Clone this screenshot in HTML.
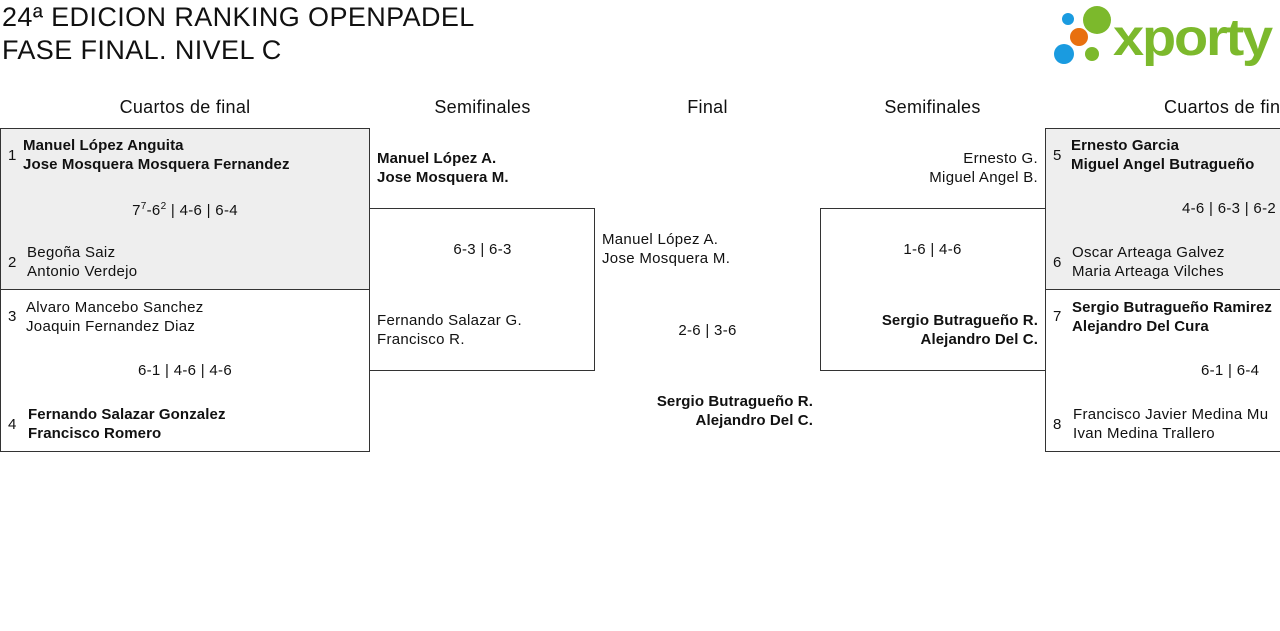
<!DOCTYPE html>
<html><head><meta charset="utf-8"><style>
body{margin:0;width:1280px;height:631px;overflow:hidden;background:#fff;font-family:"Liberation Sans",sans-serif;color:#111;position:relative}
.a{position:absolute;white-space:nowrap;font-size:15px;line-height:19px;letter-spacing:0.3px}
.b{font-weight:bold;letter-spacing:0.1px}
.h{font-size:18px;text-align:center;line-height:22px}
.box{position:absolute;border:1px solid #333;box-sizing:border-box}
.t{font-size:27px;line-height:34px;position:absolute;left:2px;white-space:nowrap;letter-spacing:0.4px}
sup{font-size:10px;line-height:0;vertical-align:6px}
</style></head><body>
<div class="t" style="top:0">24ª EDICION RANKING OPENPADEL</div>
<div class="t" style="top:33px">FASE FINAL. NIVEL C</div>
<svg style="position:absolute;left:1050px;top:3px" width="230" height="64">
<circle cx="18" cy="16" r="6" fill="#1a9be0"/><circle cx="47" cy="17" r="14" fill="#7cb92c"/>
<circle cx="29" cy="34" r="9" fill="#e8700f"/><circle cx="14" cy="51" r="10" fill="#1a9be0"/><circle cx="42" cy="51" r="7" fill="#7cb92c"/>
<text x="63" y="52" font-family="Liberation Sans" font-weight="bold" font-size="52" fill="#7cb92c" letter-spacing="-2" textLength="158" lengthAdjust="spacingAndGlyphs">xporty</text></svg>
<div class="a h" style="left:0;width:370px;top:96px">Cuartos de final</div>
<div class="a h" style="left:370px;width:225px;top:96px">Semifinales</div>
<div class="a h" style="left:595px;width:225px;top:96px">Final</div>
<div class="a h" style="left:820px;width:225px;top:96px">Semifinales</div>
<div class="a h" style="left:1164px;top:96px;text-align:left">Cuartos de final</div>

<div class="box" style="left:0;top:128px;width:370px;height:162px;background:#eee"></div>
<div class="box" style="left:0;top:289px;width:370px;height:163px"></div>
<div class="box" style="left:369px;top:208px;width:226px;height:163px;border-left:none"></div>
<div class="box" style="left:820px;top:208px;width:226px;height:163px;border-right:none"></div>
<div class="box" style="left:1045px;top:128px;width:240px;height:162px;background:#eee"></div>
<div class="box" style="left:1045px;top:289px;width:240px;height:163px"></div>

<div class="a" style="left:8px;top:146px">1</div>
<div class="a b" style="left:23px;top:136px">Manuel López Anguita<br>Jose Mosquera Mosquera Fernandez</div>
<div class="a" style="left:0;width:370px;text-align:center;top:201px">7<sup>7</sup>-6<sup>2</sup> | 4-6 | 6-4</div>
<div class="a" style="left:8px;top:253px">2</div>
<div class="a" style="left:27px;top:243px">Begoña Saiz<br>Antonio Verdejo</div>
<div class="a" style="left:8px;top:307px">3</div>
<div class="a" style="left:26px;top:298px">Alvaro Mancebo Sanchez<br>Joaquin Fernandez Diaz</div>
<div class="a" style="left:0;width:370px;text-align:center;top:361px">6-1 | 4-6 | 4-6</div>
<div class="a" style="left:8px;top:415px">4</div>
<div class="a b" style="left:28px;top:405px">Fernando Salazar Gonzalez<br>Francisco Romero</div>

<div class="a b" style="left:377px;top:149px">Manuel López A.<br>Jose Mosquera M.</div>
<div class="a" style="left:370px;width:225px;text-align:center;top:240px">6-3 | 6-3</div>
<div class="a" style="left:377px;top:311px">Fernando Salazar G.<br>Francisco R.</div>

<div class="a" style="left:602px;top:230px">Manuel López A.<br>Jose Mosquera M.</div>
<div class="a" style="left:595px;width:225px;text-align:center;top:321px">2-6 | 3-6</div>
<div class="a b" style="right:467px;top:392px;text-align:right">Sergio Butragueño R.<br>Alejandro Del C.</div>

<div class="a" style="right:242px;top:149px;text-align:right">Ernesto G.<br>Miguel Angel B.</div>
<div class="a" style="left:820px;width:225px;text-align:center;top:240px">1-6 | 4-6</div>
<div class="a b" style="right:242px;top:311px;text-align:right">Sergio Butragueño R.<br>Alejandro Del C.</div>

<div class="a" style="left:1053px;top:146px">5</div>
<div class="a b" style="left:1071px;top:136px">Ernesto Garcia<br>Miguel Angel Butragueño</div>
<div class="a" style="left:1182px;top:199px">4-6 | 6-3 | 6-2</div>
<div class="a" style="left:1053px;top:253px">6</div>
<div class="a" style="left:1072px;top:243px">Oscar Arteaga Galvez<br>Maria Arteaga Vilches</div>
<div class="a" style="left:1053px;top:307px">7</div>
<div class="a b" style="left:1072px;top:298px">Sergio Butragueño Ramirez<br>Alejandro Del Cura</div>
<div class="a" style="left:1201px;top:361px">6-1 | 6-4</div>
<div class="a" style="left:1053px;top:415px">8</div>
<div class="a" style="left:1073px;top:405px">Francisco Javier Medina Mu<br>Ivan Medina Trallero</div>
</body></html>
